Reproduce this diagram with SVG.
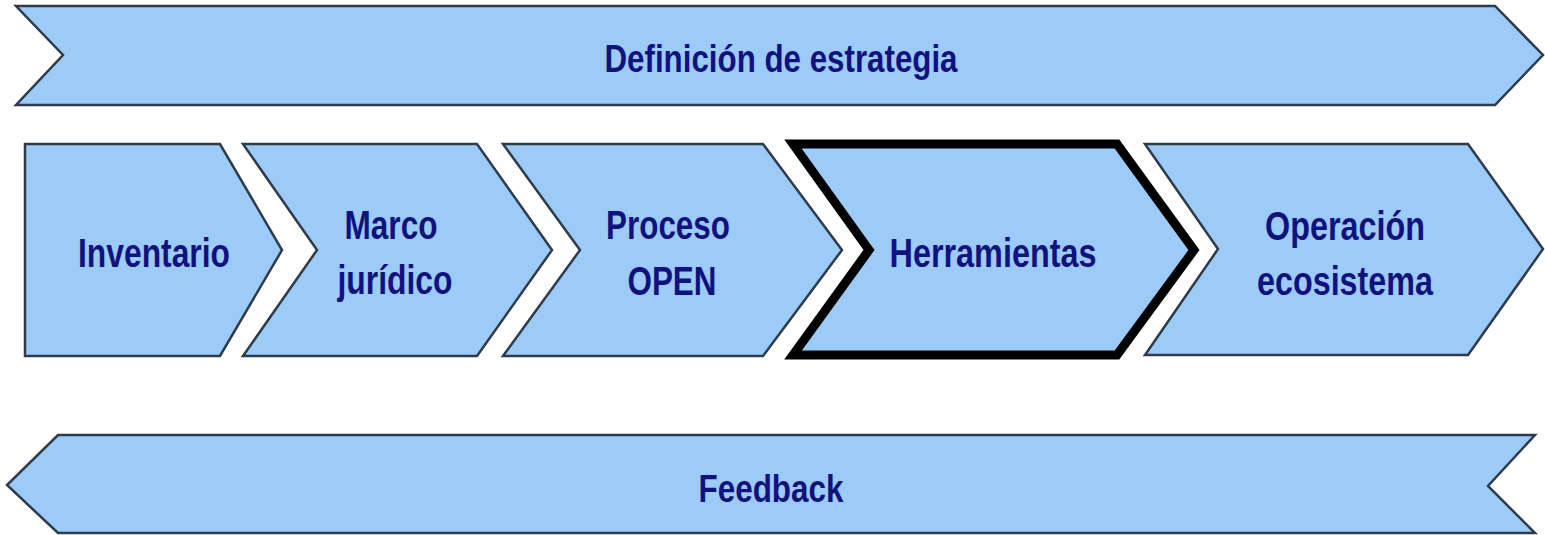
<svg xmlns="http://www.w3.org/2000/svg" width="1545" height="535" viewBox="0 0 1545 535">
<style>
.shape{fill:#9dcbf8;stroke:#2e3b4a;stroke-width:2.5;stroke-linejoin:miter}
.bold{fill:#9dcbf8;stroke:#000;stroke-width:9;stroke-linejoin:miter}
.lbl{font-family:"Liberation Sans",Arial,sans-serif;font-weight:bold;fill:#12127e;text-anchor:middle}
.mid{font-size:40px}
.ban{font-size:38px}
</style>
<rect width="1545" height="535" fill="#ffffff"/>
<g id="strategy">
<polygon class="shape" points="16,6 1495,6 1543,55 1495,105 16,105 63,55"/>
<text class="lbl ban" x="781" y="72" textLength="353" lengthAdjust="spacingAndGlyphs">Definición de estrategia</text>
</g>
<g id="inventario">
<polygon class="shape" points="25,144 220,144 282,250 220,356 25,356"/>
<text class="lbl mid" x="154" y="267" textLength="152" lengthAdjust="spacingAndGlyphs">Inventario</text>
</g>
<g id="marco">
<polygon class="shape" points="243,144 477,144 552,250 477,356 243,356 317,250"/>
<text class="lbl mid" x="391" y="239" textLength="93" lengthAdjust="spacingAndGlyphs">Marco</text>
<text class="lbl mid" x="395" y="294" textLength="115" lengthAdjust="spacingAndGlyphs">jurídico</text>
</g>
<g id="proceso">
<polygon class="shape" points="503,144 763,144 842,250 763,356 503,356 580,250"/>
<text class="lbl mid" x="668" y="239" textLength="124" lengthAdjust="spacingAndGlyphs">Proceso</text>
<text class="lbl mid" x="672" y="295" textLength="89" lengthAdjust="spacingAndGlyphs">OPEN</text>
</g>
<g id="herramientas">
<polygon class="bold" points="793,144 1117,144 1194,250 1117,355 793,355 869,250"/>
<text class="lbl mid" x="993" y="267" textLength="207" lengthAdjust="spacingAndGlyphs">Herramientas</text>
</g>
<g id="operacion">
<polygon class="shape" points="1145,144 1468,144 1543,249 1468,355 1145,355 1218,249"/>
<text class="lbl mid" x="1345" y="240" textLength="160" lengthAdjust="spacingAndGlyphs">Operación</text>
<text class="lbl mid" x="1345" y="295" textLength="176" lengthAdjust="spacingAndGlyphs">ecosistema</text>
</g>
<g id="feedback">
<polygon class="shape" points="58,435 1535,435 1488,486 1535,533 58,533 7,485"/>
<text class="lbl ban" x="771" y="502" textLength="145" lengthAdjust="spacingAndGlyphs">Feedback</text>
</g>
<g id="connectors"></g>
</svg>
